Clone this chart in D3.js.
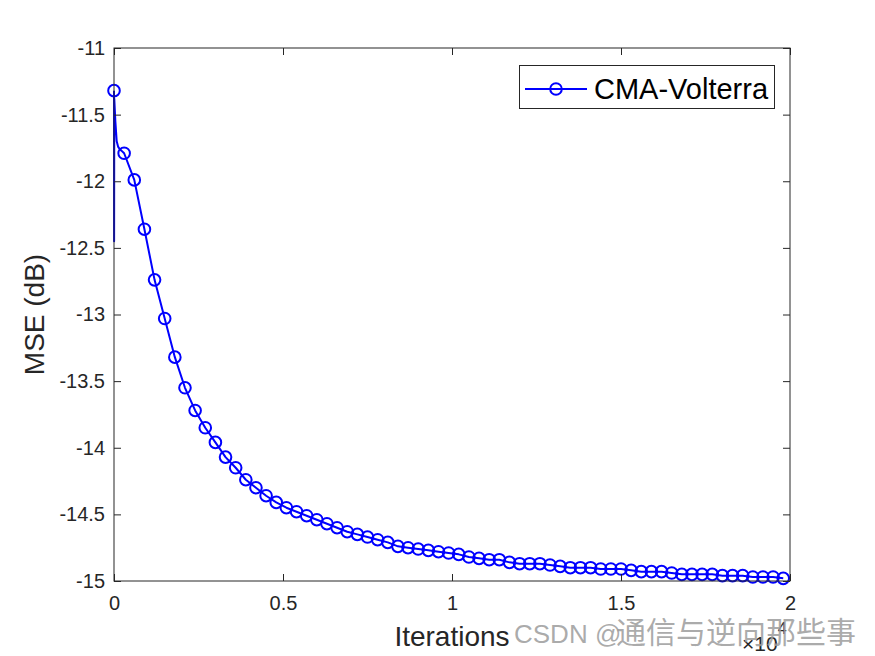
<!DOCTYPE html>
<html>
<head>
<meta charset="utf-8">
<script src="https://cdn.jsdelivr.net/npm/d3@7"></script>
<style>
  html, body { margin: 0; padding: 0; background: #ffffff; }
  svg { display: block; }
</style>
</head>
<body>
<svg id="chart" width="875" height="656"></svg>
<script>
// ---------------- data ----------------
const seriesName = "CMA-Volterra";
// marker samples: every 300 iterations
const markerIter = d3.range(0, 67).map(i => i * 300);
const markerMSE = [
  -11.32, -11.79, -11.99, -12.36, -12.74, -13.03, -13.32, -13.55, -13.72, -13.85,
  -13.96, -14.07, -14.15, -14.24, -14.30, -14.36, -14.41, -14.45, -14.48, -14.51,
  -14.54, -14.57, -14.60, -14.63, -14.65, -14.67, -14.69, -14.71, -14.74, -14.75,
  -14.76, -14.77, -14.78, -14.79, -14.80, -14.82, -14.83, -14.84, -14.84, -14.86,
  -14.87, -14.87, -14.87, -14.88, -14.89, -14.90, -14.90, -14.90, -14.91, -14.91,
  -14.91, -14.92, -14.93, -14.93, -14.93, -14.94, -14.95, -14.95, -14.95, -14.95,
  -14.96, -14.96, -14.96, -14.97, -14.97, -14.97, -14.98
];
// dense transient at the very start of the learning curve
const transientIter = [0, 3, 8, 40, 80, 120, 170, 220];
const transientMSE = [-11.32, -12.45, -11.38, -11.55, -11.70, -11.74, -11.76, -11.77];

const xTicks = [0, 5000, 10000, 15000, 20000];
const xTickLabels = ["0", "0.5", "1", "1.5", "2"];
const yTicks = [-11, -11.5, -12, -12.5, -13, -13.5, -14, -14.5, -15];
const yTickLabels = ["-11", "-11.5", "-12", "-12.5", "-13", "-13.5", "-14", "-14.5", "-15"];
const xLabel = "Iterations";
const yLabel = "MSE (dB)";
const xExponent = "4";
const watermarkLatin = "CSDN @";
const watermarkCJK = "通信与逆向那些事";

// ---------------- layout ----------------
const svg = d3.select("#chart");
const L = 114, R = 790, T = 48, B = 581;
const axisColor = "#262626";
const font = "Arial, 'Liberation Sans', Helvetica, sans-serif";

const x = d3.scaleLinear().domain([0, 20000]).range([L, R]);
const y = d3.scaleLinear().domain([-15, -11]).range([B, T]);

// line points: transient then marker samples after it
const linePts = transientIter.map((t, i) => [t, transientMSE[i]])
  .concat(markerIter.map((t, i) => [t, markerMSE[i]]).filter(d => d[0] > 220));

// line
svg.append("path")
  .datum(linePts)
  .attr("fill", "none")
  .attr("stroke", "#0000ff")
  .attr("stroke-width", 2)
  .attr("stroke-linejoin", "round")
  .attr("d", d3.line().x(d => x(d[0])).y(d => y(d[1])));

// markers
svg.append("g").selectAll("circle")
  .data(markerIter.map((t, i) => [t, markerMSE[i]]))
  .join("circle")
  .attr("cx", d => x(d[0]))
  .attr("cy", d => y(d[1]))
  .attr("r", 5.8)
  .attr("fill", "none")
  .attr("stroke", "#0000ff")
  .attr("stroke-width", 2);

// axes (MATLAB style box, inward ticks)
const tickLen = 7;
const ax = svg.append("g").attr("stroke", axisColor).attr("stroke-width", 1).attr("fill", "none");
ax.append("rect").attr("x", L).attr("y", T).attr("width", R - L).attr("height", B - T);

const xAxisB = d3.axisBottom(x).tickValues(xTicks).tickSize(-tickLen).tickPadding(15)
  .tickFormat((d, i) => xTickLabels[i]);
const gx = svg.append("g").attr("transform", `translate(0,${B})`).call(xAxisB);
const xAxisT = d3.axisTop(x).tickValues(xTicks).tickSize(-tickLen).tickFormat("");
const gxt = svg.append("g").attr("transform", `translate(0,${T})`).call(xAxisT);
const yAxisL = d3.axisLeft(y).tickValues(yTicks).tickSize(-tickLen).tickPadding(9)
  .tickFormat((d, i) => yTickLabels[i]);
const gy = svg.append("g").attr("transform", `translate(${L},0)`).call(yAxisL);
const yAxisR = d3.axisRight(y).tickValues(yTicks).tickSize(-tickLen).tickFormat("");
const gyr = svg.append("g").attr("transform", `translate(${R},0)`).call(yAxisR);

[gx, gxt, gy, gyr].forEach(g => {
  g.select(".domain").remove();
  g.selectAll("line").attr("stroke", axisColor);
  g.selectAll("text").attr("fill", axisColor).style("font-family", font).style("font-size", "20px");
});
gx.selectAll("text").attr("dy", "0.71em");

// exponent label
const expo = svg.append("text").attr("x", 742).attr("y", 651)
  .attr("fill", axisColor).style("font-family", font).style("font-size", "21px");
expo.append("tspan").text("×10");
expo.append("tspan").attr("dy", -17).style("font-size", "16px").text(xExponent);

// axis labels
svg.append("text").attr("x", (L + R) / 2).attr("y", 646).attr("text-anchor", "middle")
  .attr("fill", axisColor).style("font-family", font).style("font-size", "28px").text(xLabel);
svg.append("text").attr("transform", `translate(44,${(T + B) / 2}) rotate(-90)`)
  .attr("text-anchor", "middle")
  .attr("fill", axisColor).style("font-family", font).style("font-size", "28px").text(yLabel);

// legend
const lg = svg.append("g");
lg.append("rect").attr("x", 519.5).attr("y", 65.5).attr("width", 255).attr("height", 43)
  .attr("fill", "#ffffff").attr("stroke", axisColor).attr("stroke-width", 1);
lg.append("line").attr("x1", 525).attr("x2", 587).attr("y1", 89).attr("y2", 89)
  .attr("stroke", "#0000ff").attr("stroke-width", 2);
lg.append("circle").attr("cx", 556).attr("cy", 89).attr("r", 5.8)
  .attr("fill", "none").attr("stroke", "#0000ff").attr("stroke-width", 2);
lg.append("text").attr("x", 594).attr("y", 99).attr("fill", "#000000")
  .style("font-family", font).style("font-size", "29px").text(seriesName);

// watermark
const wm = svg.append("text").attr("y", 643)
  .attr("fill", "#9c9c9c").attr("fill-opacity", 0.85);
wm.append("tspan").attr("x", 514)
  .style("font-family", font).style("font-size", "26px").text(watermarkLatin);
wm.append("tspan").attr("x", 616)
  .style("font-family", "'Noto Sans CJK SC', sans-serif").style("font-size", "30px").text(watermarkCJK);
</script>
</body>
</html>
